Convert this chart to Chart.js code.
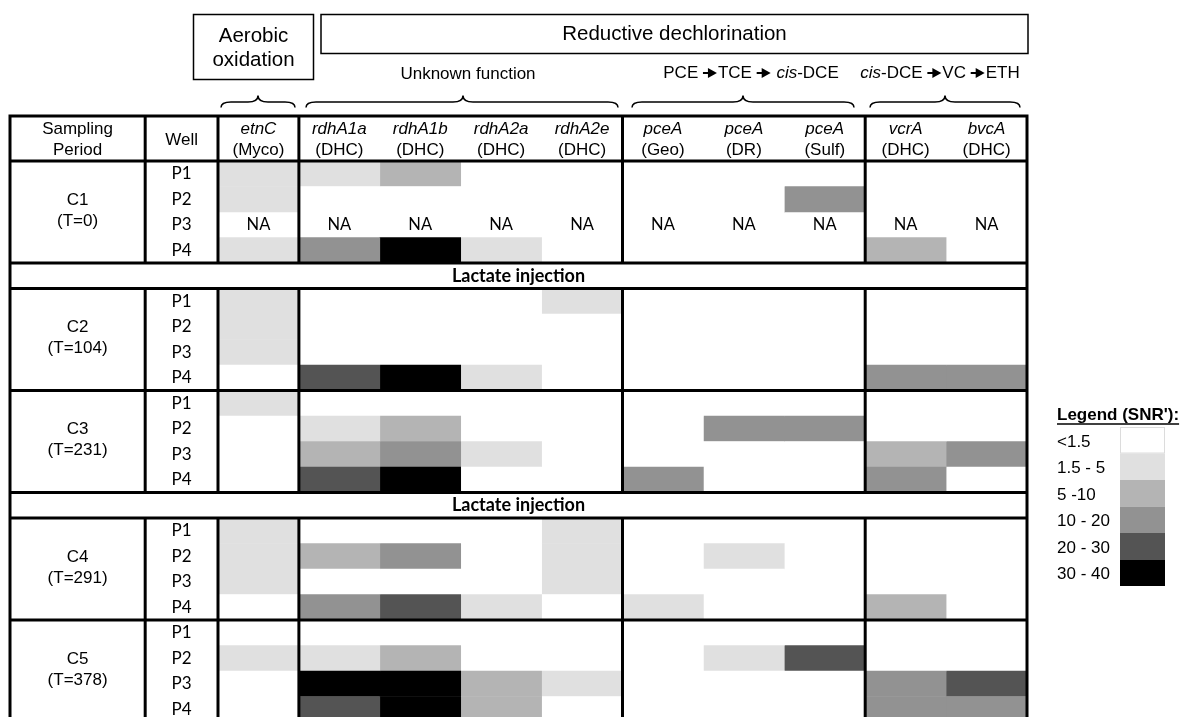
<!DOCTYPE html>
<html>
<head>
<meta charset="utf-8">
<script src="https://cdn.jsdelivr.net/npm/chart.js@4.4.1/dist/chart.umd.min.js"></script>
<style>
  html, body { margin: 0; padding: 0; background: #fff; overflow: hidden; }
  #wrap { width: 1186px; height: 730px; }
</style>
</head>
<body>
<div id="wrap"><canvas id="snrChart" width="1186" height="730"></canvas></div>
<script>
// ---- data ----
const genes = ['etnC', 'rdhA1a', 'rdhA1b', 'rdhA2a', 'rdhA2e', 'pceA', 'pceA', 'pceA', 'vcrA', 'bvcA'];
const hosts = ['(Myco)', '(DHC)', '(DHC)', '(DHC)', '(DHC)', '(Geo)', '(DR)', '(Sulf)', '(DHC)', '(DHC)'];
const periods = ['C1', 'C2', 'C3', 'C4', 'C5'];
const periodDays = ['(T=0)', '(T=104)', '(T=231)', '(T=291)', '(T=378)'];
const wells = ['P1', 'P2', 'P3', 'P4'];
const injectionAfter = ['C1', 'C3'];
const levelLabels = ['<1.5', '1.5 - 5', '5 -10', '10 - 20', '20 - 30', '30 - 40'];
const levelColors = ['#ffffff', '#e0e0e0', '#b4b4b4', '#929292', '#545454', '#000000'];

// SNR' class per well (index into levelLabels), C1 P1..P4, C2 P1..P4, ... C5 P4; null = NA
const etnC     = [1, 1, null, 1,  1, 1, 1, 0,  1, 0, 0, 0,  1, 1, 1, 0,  0, 1, 0, 0];
const rdhA1a   = [1, 0, null, 3,  0, 0, 0, 4,  0, 1, 2, 4,  0, 2, 0, 3,  0, 1, 5, 4];
const rdhA1b   = [2, 0, null, 5,  0, 0, 0, 5,  0, 2, 3, 5,  0, 3, 0, 4,  0, 2, 5, 5];
const rdhA2a   = [0, 0, null, 1,  0, 0, 0, 1,  0, 0, 1, 0,  0, 0, 0, 1,  0, 0, 2, 2];
const rdhA2e   = [0, 0, null, 0,  1, 0, 0, 0,  0, 0, 0, 0,  1, 1, 1, 0,  0, 0, 1, 0];
const pceAGeo  = [0, 0, null, 0,  0, 0, 0, 0,  0, 0, 0, 3,  0, 0, 0, 1,  0, 0, 0, 0];
const pceADR   = [0, 0, null, 0,  0, 0, 0, 0,  0, 3, 0, 0,  0, 1, 0, 0,  0, 1, 0, 0];
const pceASulf = [0, 3, null, 0,  0, 0, 0, 0,  0, 3, 0, 0,  0, 0, 0, 0,  0, 4, 0, 0];
const vcrA     = [0, 0, null, 2,  0, 0, 0, 3,  0, 0, 2, 3,  0, 0, 0, 2,  0, 0, 3, 3];
const bvcA     = [0, 0, null, 0,  0, 0, 0, 3,  0, 0, 3, 0,  0, 0, 0, 0,  0, 0, 4, 3];
const snr = [etnC, rdhA1a, rdhA1b, rdhA2a, rdhA2e, pceAGeo, pceADR, pceASulf, vcrA, bvcA];

// table rows: wells per period, with a lactate injection row after C1 and C3
const rowLabels = [];
const rowWell = [];   // index into the 20 well values, or null for injection rows
periods.forEach((p, pi) => {
  wells.forEach((w, wi) => { rowLabels.push(p + ' ' + w); rowWell.push(pi * 4 + wi); });
  if (injectionAfter.includes(p)) { rowLabels.push('Lactate injection'); rowWell.push(null); }
});

const datasets = snr.map((vals, c) => ({
  label: genes[c] + ' ' + hosts[c],
  data: rowWell.map(k => (k === null || vals[k] === null) ? null : [c, c + 1]),
  backgroundColor: rowWell.map(k => (k === null || vals[k] === null) ? '#fff' : levelColors[vals[k]]),
  borderWidth: 0,
  grouped: false,
  categoryPercentage: 1,
  barPercentage: 1
}));

const SANS = '"Liberation Sans", Arial, sans-serif';
const CAL = 'Lato, "Open Sans", sans-serif';

function brace(ctx, x1, x2, xm) {
  const yTop = 95.5, yMid = 102, yBot = 107.5, r = 10;
  ctx.beginPath();
  ctx.moveTo(x1, yBot);
  ctx.quadraticCurveTo(x1, yMid, x1 + r, yMid);
  ctx.lineTo(xm - r, yMid);
  ctx.quadraticCurveTo(xm, yMid, xm, yTop);
  ctx.quadraticCurveTo(xm, yMid, xm + r, yMid);
  ctx.lineTo(x2 - r, yMid);
  ctx.quadraticCurveTo(x2, yMid, x2, yBot);
  ctx.stroke();
}

// draws text runs; 'ARROW' draws the small arrow glyph
function rich(ctx, parts, cx, cy, size) {
  const fontOf = p => (p.it ? 'italic ' : '') + size + 'px ' + SANS;
  const widthOf = p => {
    if (p === 'ARROW') return 15;
    ctx.font = fontOf(p);
    return ctx.measureText(p.t).width;
  };
  const norm = parts.map(p => typeof p === 'string' && p !== 'ARROW' ? { t: p } : p);
  let x = cx - norm.reduce((s, p) => s + widthOf(p), 0) / 2;
  norm.forEach(p => {
    if (p === 'ARROW') {
      ctx.beginPath();
      ctx.lineWidth = 2;
      ctx.moveTo(x, cy); ctx.lineTo(x + 7, cy); ctx.stroke();
      ctx.beginPath();
      ctx.moveTo(x + 5, cy - 5); ctx.lineTo(x + 14, cy); ctx.lineTo(x + 5, cy + 5); ctx.closePath();
      ctx.fill();
      x += 15;
    } else {
      ctx.font = fontOf(p);
      ctx.textAlign = 'left';
      ctx.fillText(p.t, x, cy);
      x += ctx.measureText(p.t).width;
    }
  });
}

const tablePlugin = {
  id: 'snrTable',
  beforeDraw(chart) {
    const ctx = chart.ctx;
    ctx.save();
    ctx.fillStyle = '#fff';
    ctx.fillRect(0, 0, chart.width, chart.height);
    ctx.restore();
  },
  afterDatasetsDraw(chart) {
    const ctx = chart.ctx;
    const xs = chart.scales.x, ys = chart.scales.y;
    const X = v => xs.getPixelForValue(v);
    const rowEdge = k => ys.getPixelForValue(k - 0.5);
    const rowMid = k => ys.getPixelForValue(k);
    const left = X(xs.min), right = X(xs.max);
    const tableTop = 116, headBottom = rowEdge(0), bottom = rowEdge(rowLabels.length);
    const sampX = (left + X(-0.9)) / 2, wellX = (X(-0.9) + X(0)) / 2;

    ctx.save();
    ctx.fillStyle = '#000';
    ctx.strokeStyle = '#000';
    ctx.textBaseline = 'middle';
    ctx.textAlign = 'center';

    // header row
    ctx.font = '17px ' + SANS;
    ctx.fillText('Sampling', sampX, 129);
    ctx.fillText('Period', sampX, 150);
    ctx.fillText('Well', wellX, 140);
    genes.forEach((g, c) => {
      ctx.font = 'italic 17px ' + SANS;
      ctx.fillText(g, X(c + 0.5), 129);
      ctx.font = '17px ' + SANS;
      ctx.fillText(hosts[c], X(c + 0.5), 150);
    });

    // row labels, NA marks, injection rows
    rowLabels.forEach((lab, r) => {
      const k = rowWell[r];
      if (k === null) {
        ctx.font = 'bold 18px ' + CAL;
        ctx.fillText(lab, (left + right) / 2, rowMid(r));
        return;
      }
      ctx.font = '17px ' + CAL;
      ctx.fillText(wells[k % 4], wellX, rowMid(r));
      snr.forEach((vals, c) => {
        if (vals[k] === null) {
          ctx.font = '16.5px ' + CAL;
          ctx.fillText('NA', X(c + 0.5), rowMid(r));
        }
      });
    });
    periods.forEach((p, pi) => {
      const r0 = rowWell.indexOf(pi * 4);
      const mid = (rowEdge(r0) + rowEdge(r0 + 4)) / 2;
      ctx.font = '17px ' + SANS;
      ctx.fillText(p, sampX, mid - 12);
      ctx.fillText(periodDays[pi], sampX, mid + 9);
    });

    // table lines
    ctx.lineWidth = 3;
    ctx.strokeRect(left, tableTop, right - left, bottom - tableTop);
    const hLines = [0];
    rowWell.forEach((k, r) => {
      if (k === null) { hLines.push(r, r + 1); }
      else if (k % 4 === 3 && rowWell[r + 1] !== null && r + 1 < rowLabels.length) hLines.push(r + 1);
    });
    hLines.forEach(k => {
      ctx.beginPath(); ctx.moveTo(left, rowEdge(k)); ctx.lineTo(right, rowEdge(k)); ctx.stroke();
    });
    const vCols = [-0.9, 0, 1, 5, 8];
    const spans = [[tableTop, headBottom]];
    let start = 0;
    rowWell.forEach((k, r) => {
      if (k === null) { spans.push([rowEdge(start), rowEdge(r)]); start = r + 1; }
    });
    spans.push([rowEdge(start), bottom]);
    vCols.forEach(v => spans.forEach(([a, b]) => {
      ctx.beginPath(); ctx.moveTo(X(v), a); ctx.lineTo(X(v), b); ctx.stroke();
    }));

    // group boxes and braces
    ctx.lineWidth = 1.5;
    ctx.strokeRect(193.5, 14.5, 120, 65);
    ctx.strokeRect(321, 14.5, 707, 39);
    ctx.font = '20.5px ' + SANS;
    ctx.fillText('Aerobic', 253.5, 36);
    ctx.fillText('oxidation', 253.5, 60);
    ctx.fillText('Reductive dechlorination', 674.5, 34);
    ctx.font = '17px ' + SANS;
    ctx.fillText('Unknown function', 468, 74);
    rich(ctx, ['PCE ', 'ARROW', 'TCE ', 'ARROW', ' ', { t: 'cis', it: true }, '-DCE'], 751, 73, 17);
    rich(ctx, [{ t: 'cis', it: true }, '-DCE ', 'ARROW', 'VC ', 'ARROW', 'ETH'], 940, 73, 17);
    ctx.lineWidth = 1.5;
    brace(ctx, 221, 295, 258);
    brace(ctx, 306, 618, 463);
    brace(ctx, 632, 854, 743);
    brace(ctx, 870, 1020, 945);

    // legend
    const lx = 1057, sx = 1120, sw = 45, sh = 26.5, sTop = 427;
    ctx.textAlign = 'left';
    ctx.font = 'bold 17px ' + SANS;
    ctx.fillText("Legend (SNR'):", lx, 415);
    const tw = ctx.measureText("Legend (SNR'):").width;
    ctx.lineWidth = 1.5;
    ctx.beginPath(); ctx.moveTo(lx, 424); ctx.lineTo(lx + tw, 424); ctx.stroke();
    levelLabels.forEach((lab, i) => {
      const y = sTop + i * sh;
      ctx.fillStyle = levelColors[i];
      ctx.fillRect(sx, y, sw, sh);
      ctx.fillStyle = '#000';
      ctx.font = '17px ' + SANS;
      ctx.fillText(lab, lx, y + sh / 2 + 2);
    });
    ctx.strokeStyle = '#dcdcdc';
    ctx.lineWidth = 1;
    ctx.strokeRect(sx + 0.5, sTop + 0.5, sw - 1, sh - 1);
    ctx.restore();
  }
};

new Chart(document.getElementById('snrChart'), {
  type: 'bar',
  data: { labels: rowLabels, datasets },
  options: {
    indexAxis: 'y',
    responsive: false,
    animation: false,
    devicePixelRatio: 1,
    layout: { padding: { left: 10, right: 159, top: 161, bottom: 8 } },
    plugins: { legend: { display: false }, tooltip: { enabled: false } },
    scales: {
      x: { type: 'linear', min: -2.571, max: 10, display: false },
      y: { type: 'category', display: false, offset: true }
    }
  },
  plugins: [tablePlugin]
});
</script>
</body>
</html>
